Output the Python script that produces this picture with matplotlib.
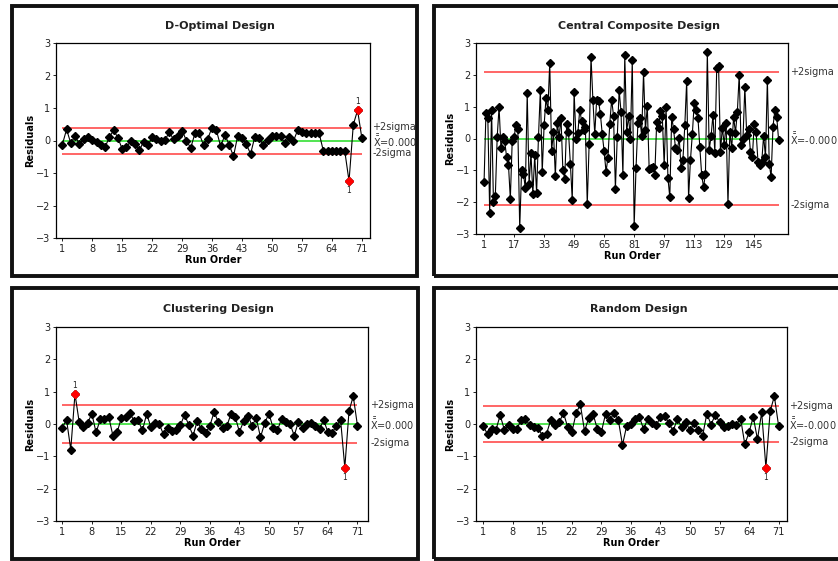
import numpy as np
import matplotlib
matplotlib.use("Agg")
import matplotlib.pyplot as plt
from matplotlib.patches import Rectangle

plt.rcParams['font.family'] = ['DejaVu Sans']

W, H = 838, 561

# residuals
dopt = [-0.13, 0.34, -0.09, 0.15, -0.12, 0.05, 0.11, 0.03, -0.05, -0.14,
        -0.20, 0.10, 0.32, 0.08, -0.26, -0.20, -0.02, -0.12, -0.30, -0.04,
        -0.15, 0.10, 0.06, -0.02, 0.02, 0.25, 0.04, 0.13, 0.30, 0.00,
        -0.23, 0.22, 0.22, -0.15, 0.06, 0.40, 0.32, -0.18, 0.17, -0.13,
        -0.49, 0.15, 0.08, -0.12, -0.41, 0.12, 0.07, -0.15, 0.02, 0.14,
        0.13, 0.14, -0.09, 0.12, -0.02, 0.32, 0.25, 0.23, 0.23, 0.23,
        0.23, -0.32, -0.32, -0.32, -0.32, -0.32, -0.32, -1.25, 0.49, 0.93,
        0.07]

ccd = [-1.37, 0.81, 0.65, -2.34, 0.91, -1.99, -1.81, 0.05, 0.99, -0.31,
       0.04, -0.08, -0.58, -0.82, -1.90, -0.08, 0.04, 0.43, 0.30, -2.82,
       -1.00, -1.11, -1.57, 1.43, -1.44, -0.47, -1.74, -0.53, -1.71, 0.05,
       1.52, -1.05, 0.41, 1.26, 0.88, 2.37, -0.38, 0.20, -1.19, 0.49,
       0.05, 0.65, -0.99, -1.27, 0.44, 0.20, -0.79, -1.93, 1.46, -0.01,
       0.18, 0.91, 0.54, 0.26, 0.36, -2.06, -0.18, 2.57, 1.22, 0.13,
       1.22, 1.19, 0.77, 0.13, -0.40, -1.04, -0.62, 0.47, 1.22, 0.72,
       -1.58, 0.05, 1.52, 0.84, -1.15, 2.62, 0.21, 0.70, -0.03, 2.48,
       -2.75, -0.92, 0.49, 0.63, 0.09, 2.09, 0.26, 1.02, -0.95, -0.92,
       -0.89, -1.16, 0.51, 0.34, 0.86, 0.70, -0.84, 0.99, -1.24, -1.85,
       0.68, 0.30, -0.29, -0.37, 0.02, -0.92, -0.66, 0.41, 1.82, -1.88,
       -0.68, 0.13, 1.10, 0.89, 0.65, -0.28, -1.15, -1.53, -1.10, 2.71,
       -0.35, 0.07, 0.75, -0.45, 2.20, 2.27, -0.42, 0.34, -0.19, 0.49,
       -2.07, 0.21, -0.29, 0.68, 0.18, 0.83, 2.01, -0.21, -0.01, 1.62,
       0.10, 0.31, -0.43, -0.58, 0.47, 0.20, -0.73, -0.84, -0.74, 0.09,
       -0.59, 1.85, -0.79, -1.21, 0.37, 0.89, 0.67, -0.05]

clus = [-0.11, 0.13, -0.79, 0.93, 0.06, -0.09, 0.03, 0.32, -0.26, 0.14,
        0.16, 0.22, -0.36, -0.25, 0.18, 0.22, 0.34, 0.10, 0.11, -0.20,
        0.31, -0.09, 0.04, -0.01, -0.32, -0.12, -0.23, -0.20, -0.04, 0.29,
        -0.04, -0.36, 0.09, -0.17, -0.28, -0.05, 0.37, 0.06, -0.12, -0.07,
        0.31, 0.22, -0.24, 0.08, 0.26, -0.05, 0.18, -0.41, 0.03, 0.32,
        -0.12, -0.20, 0.16, 0.05, 0.01, -0.36, 0.07, -0.12, -0.01, 0.04,
        -0.05, -0.14, 0.11, -0.25, -0.27, -0.06, 0.13, -1.35, 0.40, 0.86,
        -0.05]

rand = [-0.06, -0.32, -0.16, -0.18, 0.27, -0.18, -0.02, -0.16, -0.14, 0.13,
        0.16, -0.04, -0.09, -0.12, -0.36, -0.30, 0.13, -0.02, 0.05, 0.34,
        -0.09, -0.25, 0.33, 0.61, -0.22, 0.19, 0.32, -0.14, -0.24, 0.32,
        0.11, 0.35, 0.13, -0.65, -0.05, -0.01, 0.17, 0.22, -0.16, 0.17,
        0.04, -0.04, 0.22, 0.24, 0.04, -0.22, 0.16, -0.09, 0.06, -0.20,
        0.03, -0.18, -0.36, 0.32, -0.02, 0.29, 0.06, -0.09, -0.06, 0.01,
        -0.02, 0.17, -0.63, -0.26, 0.22, -0.47, 0.36, -1.35, 0.39, 0.86,
        -0.05]

titles = ["D-Optimal Design", "Central Composite Design",
          "Clustering Design", "Random Design"]
series = [dopt, ccd, clus, rand]
sigma2 = [0.40, 2.10, 0.60, 0.57]
means = ["0.000", "-0.000", "0.000", "-0.000"]
red_pts = [[68, 70], [], [4, 68], [68]]
xticks_all = [np.arange(1, 72, 7), np.arange(1, 150, 16),
              np.arange(1, 72, 7), np.arange(1, 72, 7)]
xlims = [(-0.47, 72.9), (-3.3, 163.0), (-0.5, 73.5), (-0.73, 73.0)]

# pixel boxes: axes, panel frame, title centre
ax_px = [(56, 43, 370, 238), (476, 43, 788, 234),
         (56, 327, 368, 521), (476, 327, 787, 521)]
frame_px = [(12, 6, 417, 276), (434, 6, 850, 276),
            (12, 288, 418, 559), (434, 288, 850, 559)]
title_px = [(220, 26), (639, 26), (218, 309), (639, 309)]

fig = plt.figure(figsize=(W / 100, H / 100), dpi=100)
fig.patch.set_facecolor('white')

for fx0, fy0, fx1, fy1 in frame_px:
    fig.patches.append(Rectangle((fx0 / W, 1 - fy1 / H), (fx1 - fx0) / W,
                                 (fy1 - fy0) / H, transform=fig.transFigure,
                                 fill=False, lw=2.8, ec='#111111'))

for i in range(4):
    x0, y0, x1, y1 = ax_px[i]
    ax = fig.add_axes([x0 / W, 1 - y1 / H, (x1 - x0) / W, (y1 - y0) / H])
    y = np.array(series[i])
    n = len(y)
    x = np.arange(1, n + 1)
    s = sigma2[i]
    ax.hlines([s, -s], 1, n, colors='#ff3c3c', lw=1.1, zorder=1)
    ax.hlines(0, 1, n, colors='#22dd22', lw=1.1, zorder=1)
    ax.plot(x, y, color='black', lw=0.8, marker='D', ms=4.5, mfc='black',
            mec='black', zorder=3)
    for r in red_pts[i]:
        ax.plot(r, y[r - 1], marker='D', ms=4.5, color='red', zorder=4)
        off = 6 if y[r - 1] > 0 else -7
        ax.annotate('1', (r, y[r - 1]), xytext=(0, off), textcoords='offset points',
                    ha='center', va='center', fontsize=5.5, color='#222222')
    ax.set_xlim(*xlims[i])
    ax.set_ylim(-3, 3)
    ax.set_yticks(range(-3, 4))
    ax.set_xticks(xticks_all[i])
    ax.tick_params(labelsize=7, length=2.5, width=0.7, pad=1.5, colors='#222222')
    for sp in ax.spines.values():
        sp.set_linewidth(0.9)
    ax.set_ylabel('Residuals', fontsize=7, fontweight='bold', labelpad=1)
    ax.set_xlabel('Run Order', fontsize=7, fontweight='bold', labelpad=1)
    tr = ax.get_yaxis_transform()
    ax.text(1.008, s, '+2sigma', transform=tr, fontsize=7, color='#333333',
            va='center', ha='left')
    ax.text(1.008, 0, r'$\bar{\bar{\mathrm{X}}}$=' + means[i], transform=tr,
            fontsize=7, color='#333333', va='center', ha='left')
    ax.text(1.008, -s, '-2sigma', transform=tr, fontsize=7, color='#333333',
            va='center', ha='left')
    tx, ty = title_px[i]
    fig.text(tx / W, 1 - ty / H, titles[i], ha='center', va='center',
             fontsize=8, fontweight='bold', color='#222222')

fig.savefig('out.png', dpi=100)
